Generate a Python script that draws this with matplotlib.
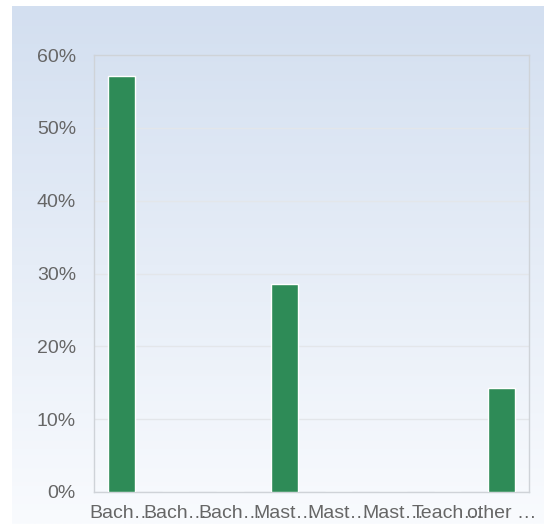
import numpy as np
import matplotlib
matplotlib.use("Agg")
import matplotlib.pyplot as plt
from matplotlib.ticker import FuncFormatter

categories = ["Bach…", "Bach…", "Bach…", "Mast…", "Mast…", "Mast…", "Teach…", "other …"]
values = [57.14, 0, 0, 28.57, 0, 0, 0, 14.29]
yticks = [0, 10, 20, 30, 40, 50, 60]

plt.rcParams['font.family'] = ['Liberation Sans', 'DejaVu Sans']

W, H = 544, 524
fig = plt.figure(figsize=(W / 100, H / 100), dpi=100)
fig.patch.set_facecolor('white')

# gradient background
bg = fig.add_axes([12 / W, 0, 1 - 12 / W, 1 - 6 / H], zorder=0)
grad = np.linspace(0, 1, 256).reshape(-1, 1)
top = np.array([0xd3, 0xdf, 0xf0]) / 255
bot = np.array([0xf9, 0xfb, 0xfe]) / 255
img = top[None, None, :] * (1 - grad[:, :, None]) + bot[None, None, :] * grad[:, :, None]
bg.imshow(img, aspect='auto', extent=[0, 1, 0, 1])
bg.set_axis_off()

left, right, topy, bottom = 94, 529, 55, 492
ax = fig.add_axes([left / W, 1 - bottom / H, (right - left) / W, (bottom - topy) / H], zorder=1)
ax.patch.set_alpha(0)

x = np.arange(len(categories))
ax.bar(x, values, width=0.5, color='#2e8b57', edgecolor='white', linewidth=1, zorder=3)
ax.set_xlim(-0.5, len(categories) - 0.5)
ax.set_ylim(0, 60)
ax.set_yticks(yticks)
ax.yaxis.set_major_formatter(FuncFormatter(lambda v, p: f"{int(v)}%"))
ax.set_xticks(x)
ax.set_xticklabels(categories)
ax.tick_params(axis='both', length=0, colors='#666666', labelsize=14)
ax.tick_params(axis='y', pad=13)
ax.tick_params(axis='x', pad=9)
ax.grid(axis='y', color='#e3e6ea', linewidth=1, zorder=0)
for s in ax.spines.values():
    s.set_color('#cfd3d8')
    s.set_linewidth(1)

fig.savefig('out.png', dpi=100)
